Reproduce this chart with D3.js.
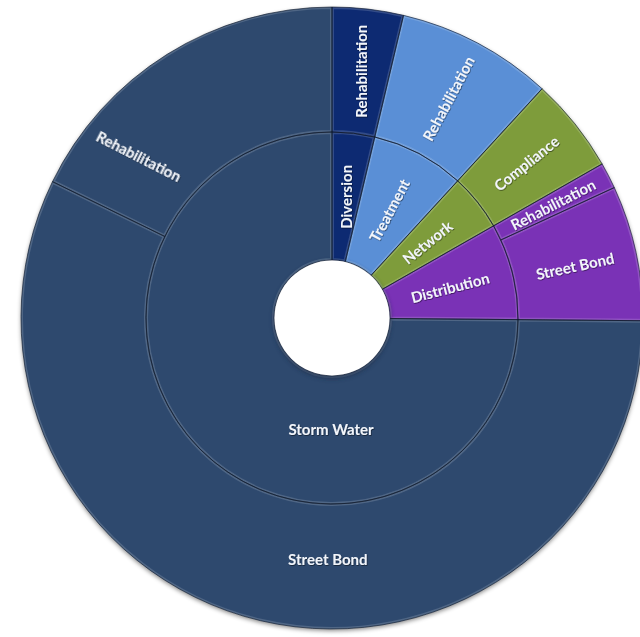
<!DOCTYPE html>
<html>
<head>
<meta charset="utf-8">
<script src="https://cdn.jsdelivr.net/npm/d3@7"></script>
<style>
  html, body { margin: 0; padding: 0; background: #ffffff; }
  svg { display: block; }
  text { font-family: Lato, "Open Sans", sans-serif; font-weight: bold; }
</style>
</head>
<body>
<svg id="chart" width="640" height="637"></svg>
<script>
// ---- data ----
const categories = ["Diversion", "Treatment", "Network", "Distribution", "Storm Water"];
const childParents = ["Diversion", "Treatment", "Network", "Distribution", "Distribution", "Storm Water", "Storm Water"];
const childNames = ["Rehabilitation", "Rehabilitation", "Compliance", "Rehabilitation", "Street Bond", "Street Bond", "Rehabilitation"];
const childValues = [13.3, 29.2, 17.8, 4.9, 25.3, 205.5, 64.0];
const categoryColors = ["#0d2a72", "#5a8fd6", "#7e9c3b", "#7a33b6", "#2d4a6e"];

// ---- build hierarchy ----
const root = {
  name: "root",
  children: categories.map(c => ({
    name: c,
    children: childNames
      .map((n, i) => ({ name: n, value: childValues[i], parent: childParents[i] }))
      .filter(d => d.parent === c)
      .map(d => ({ name: d.name, value: d.value }))
  }))
};

const cx = 332, cy = 318;
const radii = [0, 58, 186, 311];

const hier = d3.hierarchy(root).sum(d => d.value || 0);
d3.partition().size([2 * Math.PI, 3])(hier);

const color = d3.scaleOrdinal().domain(categories).range(categoryColors);
const rScale = d3.scaleLinear().domain([0, 1, 2, 3]).range(radii);

const arc = d3.arc()
  .startAngle(d => d.x0)
  .endAngle(d => d.x1)
  .innerRadius(d => rScale(d.y0))
  .outerRadius(d => rScale(d.y1));

const svg = d3.select("#chart");
const defs = svg.append("defs");

const shadow = defs.append("filter").attr("id", "shadow")
  .attr("x", "-10%").attr("y", "-10%").attr("width", "120%").attr("height", "120%");
shadow.append("feDropShadow").attr("dx", 0).attr("dy", 2).attr("stdDeviation", 2.2)
  .attr("flood-color", "#000").attr("flood-opacity", 0.45);

const tshadow = defs.append("filter").attr("id", "tshadow");
tshadow.append("feDropShadow").attr("dx", 0.6).attr("dy", 0.8).attr("stdDeviation", 0.7)
  .attr("flood-color", "#000").attr("flood-opacity", 0.55);

const holeShadow = defs.append("filter").attr("id", "holeShadow")
  .attr("x", "-30%").attr("y", "-30%").attr("width", "160%").attr("height", "160%");
holeShadow.append("feGaussianBlur").attr("stdDeviation", 2);

const g = svg.append("g").attr("transform", `translate(${cx},${cy})`);

const nodes = hier.descendants().filter(d => d.depth > 0);
const topCat = d => (d.depth === 1 ? d.data.name : d.parent.data.name);

// base shapes with drop shadow
const base = g.append("g").attr("filter", "url(#shadow)");
base.selectAll("path.seg")
  .data(nodes)
  .join("path")
  .attr("class", "seg")
  .attr("d", arc)
  .attr("fill", d => color(topCat(d)));

// bevel: clipped light inner stroke + dark outline
nodes.forEach((d, i) => {
  defs.append("clipPath").attr("id", "clip" + i)
    .append("path").attr("d", arc(d));
});
const bevel = g.append("g");
bevel.selectAll("path.hl")
  .data(nodes)
  .join("path")
  .attr("class", "hl")
  .attr("d", arc)
  .attr("fill", "none")
  .attr("stroke", "#ffffff")
  .attr("stroke-opacity", 0.16)
  .attr("stroke-width", 4)
  .attr("clip-path", (d, i) => `url(#clip${i})`);
bevel.selectAll("path.ol")
  .data(nodes)
  .join("path")
  .attr("class", "ol")
  .attr("d", arc)
  .attr("fill", "none")
  .attr("stroke", "#0a1426")
  .attr("stroke-opacity", 0.6)
  .attr("stroke-width", 1);

// hole shadow
g.append("circle").attr("cx", 0).attr("cy", 2).attr("r", radii[1] + 1)
  .attr("fill", "#1a2c44").attr("opacity", 0.6).attr("filter", "url(#holeShadow)");
g.append("circle").attr("cx", 0).attr("cy", 0).attr("r", radii[1] - 0.5).attr("fill", "#ffffff");

// ---- labels ----
// Excel places labels of very large segments differently: overrides (angle deg, radius, rotation)
const labelOverrides = {
  "Storm Water": { a: 180.5, r: 111, rot: 0 },
  "Storm Water/Street Bond": { a: 181, r: 241, rot: 0 },
  "Storm Water/Rehabilitation": { a: 310, r: 252, rot: 27 },
  "Diversion": { rot: -90 },
  "Diversion/Rehabilitation": { rot: -90 }
};
const keyOf = d => (d.depth === 1 ? d.data.name : d.parent.data.name + "/" + d.data.name);

g.append("g").attr("filter", "url(#tshadow)")
  .selectAll("text")
  .data(nodes)
  .join("text")
  .attr("fill", "#f2f5fa")
  .attr("font-size", 15)
  .attr("text-anchor", "middle")
  .attr("dominant-baseline", "central")
  .attr("transform", d => {
    const o = labelOverrides[keyOf(d)] || {};
    let aDeg = (d.x0 + d.x1) / 2 * 180 / Math.PI;
    let r = (rScale(d.y0) + rScale(d.y1)) / 2;
    let rot = aDeg > 180 ? aDeg + 90 : aDeg - 90;
    if (o.a !== undefined) aDeg = o.a;
    if (o.r !== undefined) r = o.r;
    if (o.rot !== undefined) rot = o.rot;
    const ar = aDeg * Math.PI / 180;
    const x = r * Math.sin(ar), y = -r * Math.cos(ar);
    return `translate(${x},${y}) rotate(${rot})`;
  })
  .text(d => d.data.name);
</script>
</body>
</html>
